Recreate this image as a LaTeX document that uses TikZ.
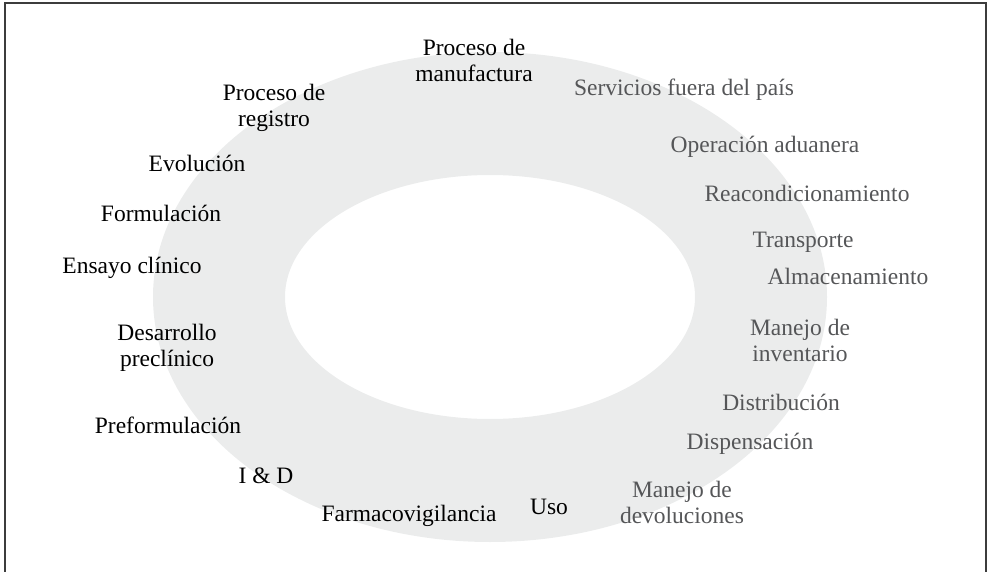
\documentclass[tikz,border=0pt]{standalone}
\usepackage{fontspec}
\setmainfont{Liberation Serif}
\usepackage{tikz}
\tikzset{>=stealth}
\definecolor{ringgray}{RGB}{235,236,236}
\definecolor{framegray}{RGB}{60,60,60}
\definecolor{labelgray}{RGB}{85,86,88}
\tikzset{
  stage/.style={font=\fontsize{23.5}{26}\selectfont, align=center, inner sep=0pt, text=black},
  supply/.style={stage, text=labelgray}
}

\begin{document}
\begin{tikzpicture}[x=1pt,y=-1pt]
\useasboundingbox (0,0) rectangle (988,572);

% Frame (open at the bottom)
\draw [framegray, line width=1.5pt] (5,572) -- (5,3) -- (986,3) -- (986,572);

% Draw ring
\coordinate (C) at (490,297);
\fill [ringgray, even odd rule] (C) ellipse [x radius=337, y radius=245]
                                (C) ellipse [x radius=205, y radius=122];

% Left side: development stages
\node [stage] (manufactura) at (474,60)  {Proceso de\\manufactura};
\node [stage] (registro)    at (274,108) {Proceso de\\registro};
\node [stage] (evolucion)   at (197,163) {Evolución};
\node [stage] (formulacion) at (161,213) {Formulación};
\node [stage] (ensayo)      at (132,268) {Ensayo clínico};
\node [stage] (desarrollo)  at (167,348) {Desarrollo\\preclínico};
\node [stage] (preform)     at (168,425) {Preformulación};
\node [stage] (iyd)         at (266,476) {I \& D};
\node [stage] (farmaco)     at (409,516) {Farmacovigilancia};
\node [stage] (uso)         at (549,507) {Uso};

% Right side: supply chain
\node [supply] (servicios)   at (684,90)  {Servicios fuera del país};
\node [supply] (aduana)      at (765,147) {Operación aduanera};
\node [supply] (reacond)     at (807,193) {Reacondicionamiento};
\node [supply] (transporte)  at (803,242) {Transporte};
\node [supply] (almacen)     at (848,276) {Almacenamiento};
\node [supply] (inventario)  at (800,340) {Manejo de\\inventario};
\node [supply] (distrib)     at (781,402) {Distribución};
\node [supply] (dispensa)    at (750,444) {Dispensación};
\node [supply] (devolucion)  at (682,502) {Manejo de\\devoluciones};
\end{tikzpicture}
\end{document}
